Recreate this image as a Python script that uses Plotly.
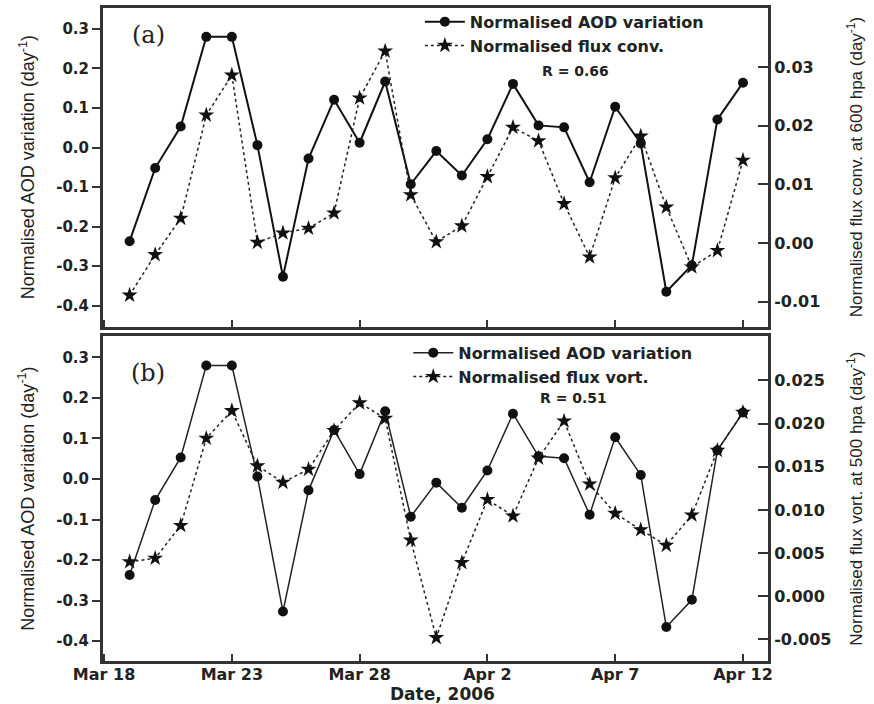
import plotly.graph_objects as go

# ---------------- data ----------------
dates = ["2006-03-19", "2006-03-20", "2006-03-21", "2006-03-22", "2006-03-23",
         "2006-03-24", "2006-03-25", "2006-03-26", "2006-03-27", "2006-03-28",
         "2006-03-29", "2006-03-30", "2006-03-31", "2006-04-01", "2006-04-02",
         "2006-04-03", "2006-04-04", "2006-04-05", "2006-04-06", "2006-04-07",
         "2006-04-08", "2006-04-09", "2006-04-10", "2006-04-11", "2006-04-12"]

aod_variation = [-0.237, -0.052, 0.053, 0.280, 0.280, 0.006, -0.327, -0.028, 0.121, 0.012,
                 0.167, -0.093, -0.009, -0.071, 0.021, 0.161, 0.056, 0.051, -0.088, 0.103,
                 0.010, -0.365, -0.298, 0.071, 0.164]

flux_conv = [-0.0089, -0.0020, 0.0042, 0.0218, 0.0286, 0.0001, 0.0017, 0.0025, 0.0051, 0.0247,
             0.0327, 0.0082, 0.0002, 0.0029, 0.0113, 0.0197, 0.0174, 0.0067, -0.0024, 0.0111,
             0.0182, 0.0061, -0.0041, -0.0013, 0.0141]

flux_vort = [0.0040, 0.0044, 0.0082, 0.0183, 0.0215, 0.0151, 0.0132, 0.0147, 0.0192, 0.0224,
             0.0206, 0.0065, -0.0048, 0.0039, 0.0112, 0.0093, 0.0160, 0.0203, 0.0130, 0.0096,
             0.0077, 0.0059, 0.0094, 0.0169, 0.0213]

x_tickvals = ["2006-03-18", "2006-03-23", "2006-03-28", "2006-04-02", "2006-04-07", "2006-04-12"]
x_ticktext = ["Mar 18", "Mar 23", "Mar 28", "Apr 2", "Apr 7", "Apr 12"]

aod_tickvals = [-0.4, -0.3, -0.2, -0.1, 0.0, 0.1, 0.2, 0.3]
aod_ticktext = ["-0.4", "-0.3", "-0.2", "-0.1", "0.0", "0.1", "0.2", "0.3"]

conv_tickvals = [-0.01, 0.0, 0.01, 0.02, 0.03]
conv_ticktext = ["-0.01", "0.00", "0.01", "0.02", "0.03"]

vort_tickvals = [-0.005, 0.0, 0.005, 0.010, 0.015, 0.020, 0.025]
vort_ticktext = ["-0.005", "0.000", "0.005", "0.010", "0.015", "0.020", "0.025"]

r_top = "R = 0.66"
r_bottom = "R = 0.51"

# ---------------- style ----------------
FRAME = "#333333"
INK = "#222222"
XTICKFONT = dict(family="DejaVu Sans", size=16, color=INK, weight="bold")
LTICKFONT = dict(family="DejaVu Sans", size=15, color=INK, weight="bold")
RTICKFONT = dict(family="DejaVu Sans", size=16, color=INK, weight="bold")
TITLEFONT = dict(family="Liberation Sans", size=18, color=INK)
LEGFONT = dict(family="DejaVu Sans", size=16, color=INK, weight="bold")

fig = go.Figure()

# top panel
fig.add_trace(go.Scatter(x=dates, y=aod_variation, name="Normalised AOD variation",
                         mode="lines+markers", xaxis="x", yaxis="y",
                         line=dict(color="#111111", width=2),
                         marker=dict(symbol="circle", size=10, color="#111111"),
                         legend="legend"))
fig.add_trace(go.Scatter(x=dates, y=flux_conv, name="Normalised flux conv.",
                         mode="lines+markers", xaxis="x", yaxis="y2",
                         line=dict(color=INK, width=1.5, dash="dot"),
                         marker=dict(symbol="star", size=12, color="#111111"),
                         legend="legend"))

# bottom panel
fig.add_trace(go.Scatter(x=dates, y=aod_variation, name="Normalised AOD variation",
                         mode="lines+markers", xaxis="x2", yaxis="y3",
                         line=dict(color=INK, width=1.5),
                         marker=dict(symbol="circle", size=10, color="#111111"),
                         legend="legend2"))
fig.add_trace(go.Scatter(x=dates, y=flux_vort, name="Normalised flux vort.",
                         mode="lines+markers", xaxis="x2", yaxis="y4",
                         line=dict(color=INK, width=1.5, dash="dot"),
                         marker=dict(symbol="star", size=12, color="#111111"),
                         legend="legend2"))

xrange = ["2006-03-17 23:00", "2006-04-12 23:30"]

common_x = dict(type="date", range=xrange, tickvals=x_tickvals, ticktext=x_ticktext,
                ticks="inside", ticklen=7, tickwidth=2, tickcolor=FRAME,
                showline=True, linewidth=3, linecolor=FRAME, mirror=True,
                showgrid=False, zeroline=False, tickfont=XTICKFONT, ticklabelstandoff=-3)

top_dom = [0.5122, 1.0]
bot_dom = [0.0, 0.497]

left_y = dict(tickvals=aod_tickvals, ticktext=aod_ticktext,
              ticks="outside", ticklen=8, tickwidth=2, tickcolor=FRAME,
              showline=True, linewidth=3, linecolor=FRAME, mirror=True,
              showgrid=False, zeroline=False, tickfont=LTICKFONT)
right_y = dict(side="right", ticks="inside", ticklen=10, tickwidth=2, tickcolor=FRAME,
               showline=True, linewidth=3, linecolor=FRAME,
               showgrid=False, zeroline=False, tickfont=RTICKFONT)

fig.update_layout(
    width=874, height=704,
    margin=dict(l=103, r=106, t=5, b=43),
    paper_bgcolor="white", plot_bgcolor="white",
    xaxis=dict(common_x, anchor="y", showticklabels=False),
    xaxis2=dict(common_x, anchor="y3"),
    yaxis=dict(left_y, domain=top_dom, range=[-0.453, 0.353], anchor="x"),
    yaxis2=dict(right_y, domain=top_dom, range=[-0.01424, 0.04005],
                tickvals=conv_tickvals, ticktext=conv_ticktext, overlaying="y", anchor="x"),
    yaxis3=dict(left_y, domain=bot_dom, range=[-0.449, 0.3516], anchor="x2"),
    yaxis4=dict(right_y, domain=bot_dom, range=[-0.0075, 0.0301],
                tickvals=vort_tickvals, ticktext=vort_ticktext, overlaying="y3", anchor="x2"),
    legend=dict(x=0.4765, y=1.005, xanchor="left", yanchor="top", font=LEGFONT,
                bgcolor="rgba(0,0,0,0)", tracegroupgap=0, itemwidth=40),
    legend2=dict(x=0.459, y=0.498, xanchor="left", yanchor="top", font=LEGFONT,
                 bgcolor="rgba(0,0,0,0)", tracegroupgap=0, itemwidth=40),
    showlegend=True,
)

ann = []
# axis titles
ann.append(dict(text="Normalised AOD variation (day<sup>-1</sup>)", textangle=-90,
                xref="paper", x=0, xshift=-76, xanchor="center",
                yref="paper", y=(top_dom[0] + top_dom[1]) / 2, yanchor="middle",
                showarrow=False, font=TITLEFONT))
ann.append(dict(text="Normalised AOD variation (day<sup>-1</sup>)", textangle=-90,
                xref="paper", x=0, xshift=-76, xanchor="center",
                yref="paper", y=(bot_dom[0] + bot_dom[1]) / 2, yanchor="middle",
                showarrow=False, font=TITLEFONT))
ann.append(dict(text="Normalised flux conv. at 600 hpa (day<sup>-1</sup>)", textangle=-90,
                xref="paper", x=1, xshift=87, xanchor="center",
                yref="paper", y=(top_dom[0] + top_dom[1]) / 2, yanchor="middle",
                showarrow=False, font=dict(TITLEFONT, size=17)))
ann.append(dict(text="Normalised flux vort. at 500 hpa (day<sup>-1</sup>)", textangle=-90,
                xref="paper", x=1, xshift=87, xanchor="center",
                yref="paper", y=(bot_dom[0] + bot_dom[1]) / 2, yanchor="middle",
                showarrow=False, font=dict(TITLEFONT, size=17)))
ann.append(dict(text="Date, 2006", xref="paper", x=0.511, yref="paper", y=-0.0505,
                xanchor="center", yanchor="middle", showarrow=False,
                font=dict(family="DejaVu Sans", size=17, color=INK, weight="bold")))
# panel labels
ann.append(dict(text="(a)", xref="paper", x=0.0677, yref="paper", y=0.958,
                xanchor="center", yanchor="middle", showarrow=False,
                font=dict(family="DejaVu Serif", size=24, color=INK)))
ann.append(dict(text="(b)", xref="paper", x=0.0677, yref="paper", y=(661 - 372) / 656,
                xanchor="center", yanchor="middle", showarrow=False,
                font=dict(family="DejaVu Serif", size=24, color=INK)))
# correlation labels
ann.append(dict(text=r_top, xref="paper", x=0.711, yref="paper", y=0.904,
                xanchor="center", yanchor="middle", showarrow=False,
                font=dict(family="DejaVu Sans", size=14, color=INK, weight="bold")))
ann.append(dict(text=r_bottom, xref="paper", x=0.707, yref="paper", y=0.4024,
                xanchor="center", yanchor="middle", showarrow=False,
                font=dict(family="DejaVu Sans", size=14, color=INK, weight="bold")))

fig.update_layout(annotations=ann)

fig.write_html("out.html")
